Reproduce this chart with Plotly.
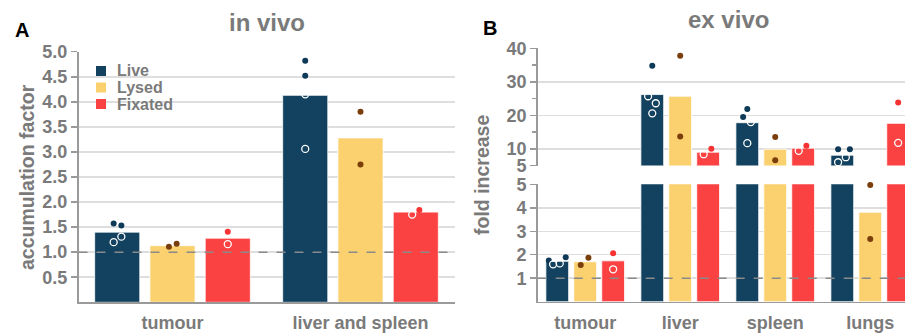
import plotly.graph_objects as go

# ---------------- data ----------------
series = ["Live", "Lysed", "Fixated"]
bar_colors = ["#12425f", "#fbd06e", "#fb4242"]
dot_colors = ["#0e3a58", "#7a3d0c", "#f63232"]

# Panel A (in vivo)
cats_a = ["tumour", "liver and spleen"]
vals_a = {
    "Live": [1.40, 4.13],
    "Lysed": [1.13, 3.28],
    "Fixated": [1.28, 1.80],
}
# replicate points: (category index, value, jitter, filled)
dots_a = {
    "Live": [(0, 1.57, -0.019, True), (0, 1.53, 0.022, True), (0, 1.20, -0.019, False), (0, 1.31, 0.022, False),
             (1, 4.82, 0, True), (1, 4.52, 0, True), (1, 4.15, 0, False), (1, 3.06, 0, False)],
    "Lysed": [(0, 1.11, -0.019, True), (0, 1.17, 0.022, True),
              (1, 3.80, 0, True), (1, 2.75, 0, True)],
    "Fixated": [(0, 1.41, 0, True), (0, 1.16, 0, False),
                (1, 1.75, -0.019, False), (1, 1.84, 0.019, True)],
}

# Panel B (ex vivo)
cats_b = ["tumour", "liver", "spleen", "lungs"]
vals_b = {
    "Live": [1.72, 26.2, 17.8, 8.1],
    "Lysed": [1.70, 25.7, 9.9, 3.81],
    "Fixated": [1.74, 9.0, 10.2, 17.6],
}
dots_b = {
    "Live": [(0, 1.76, -0.089, True), (0, 1.59, -0.044, False), (0, 1.63, 0.026, False), (0, 1.89, 0.089, True),
             (1, 34.8, 0, True), (1, 25.7, -0.044, False), (1, 23.6, 0.037, False), (1, 20.6, 0, False),
             (2, 21.9, 0, True), (2, 19.5, -0.044, True), (2, 18.0, 0.037, False), (2, 11.7, 0, False),
             (3, 9.9, -0.044, True), (3, 9.9, 0.08, True), (3, 7.5, 0.037, False), (3, 6.0, -0.044, False)],
    "Lysed": [(0, 1.56, -0.047, True), (0, 1.87, 0.034, True),
              (1, 37.8, 0, True), (1, 13.7, 0, True),
              (2, 13.5, 0, True), (2, 6.6, 0, True),
              (3, 4.97, 0, True), (3, 2.67, 0, True)],
    "Fixated": [(0, 2.06, 0, True), (0, 1.38, 0, False),
                (1, 8.4, -0.047, False), (1, 10.0, 0.034, True),
                (2, 9.4, -0.047, False), (2, 10.9, 0.034, True),
                (3, 23.8, 0, True), (3, 11.8, 0, False)],
}

ticks_a = [0.5, 1.0, 1.5, 2.0, 2.5, 3.0, 3.5, 4.0, 4.5, 5.0]
ticks_b_up = [5, 10, 20, 30, 40]
ticks_b_low = [1, 2, 3, 4, 5]

# ---------------- style ----------------
W, H = 905, 335
GRAY = "#7a7a7a"
GRID = "#dedede"
AXC = "#9a9a9a"
FONT = "Liberation Sans, Arial, sans-serif"
SLOT = 0.294
BW = 0.24


def px(x):
    return x / W


def py(y):
    return 1 - y / H


fig = go.Figure()


def dot_marker(k, filled):
    if filled:
        return dict(size=6, color=dot_colors[k], symbol="circle", line=dict(width=0))
    return dict(size=7, color="white", symbol="circle-open", line=dict(width=1.3, color="white"))


# ---------- Panel A ----------
for k, s in enumerate(series):
    off = (k - 1) * SLOT
    fig.add_trace(go.Bar(
        x=[i + off for i in range(len(cats_a))], y=vals_a[s], width=BW,
        marker=dict(color=bar_colors[k], line=dict(color="white", width=0.8)),
        name=s, showlegend=False, xaxis="x", yaxis="y"))
    for filled in (True, False):
        pts = [p for p in dots_a[s] if p[3] == filled]
        fig.add_trace(go.Scatter(
            x=[p[0] + off + p[2] for p in pts], y=[p[1] for p in pts], mode="markers",
            marker=dot_marker(k, filled), showlegend=False, xaxis="x", yaxis="y",
            hoverinfo="skip", cliponaxis=False))

# ---------- Panel B ----------
for k, s in enumerate(series):
    off = (k - 1) * SLOT
    for ax in ("y2", "y3"):
        fig.add_trace(go.Bar(
            x=[i + off for i in range(len(cats_b))], y=vals_b[s], width=BW,
            marker=dict(color=bar_colors[k], line=dict(color="white", width=0.8)),
            name=s, showlegend=False, xaxis="x2", yaxis=ax))
    for filled in (True, False):
        for ax, cond in (("y2", lambda v: v > 5), ("y3", lambda v: v <= 5)):
            pts = [p for p in dots_b[s] if p[3] == filled and cond(p[1])]
            if not pts:
                continue
            fig.add_trace(go.Scatter(
                x=[p[0] + off + p[2] for p in pts], y=[p[1] for p in pts], mode="markers",
                marker=dot_marker(k, filled), showlegend=False, xaxis="x2", yaxis=ax,
                hoverinfo="skip", cliponaxis=False))

tickfont = dict(family=FONT, size=18, color=GRAY, weight="bold")
xtickfont = dict(family=FONT, size=18, color=GRAY, weight="bold")

common_y = dict(showgrid=True, gridcolor=GRID, gridwidth=1.5, zeroline=False,
                showline=True, linecolor=AXC, linewidth=1.5,
                ticks="outside", ticklen=6, tickcolor=AXC, tickwidth=1.5,
                tickfont=tickfont, automargin=False)
common_x = dict(ticks="", showgrid=False, zeroline=False, showline=True, linecolor=AXC,
                linewidth=1.5, tickfont=xtickfont, ticklabelstandoff=4, automargin=False)

fig.update_layout(
    width=W, height=H, margin=dict(l=0, r=0, t=0, b=0, autoexpand=False),
    paper_bgcolor="white", plot_bgcolor="white",
    barmode="overlay", showlegend=False, hovermode=False,
    font=dict(family=FONT, color=GRAY),
    xaxis=dict(domain=[px(78.5), px(454.5)], range=[-0.5, 1.5], anchor="y",
               tickvals=list(range(len(cats_a))), ticktext=cats_a, **common_x),
    yaxis=dict(domain=[py(302.3), py(51.7)], range=[0, 5.0], anchor="x",
               tickvals=ticks_a, ticktext=[f"{t:.1f}" for t in ticks_a], **common_y),
    xaxis2=dict(domain=[px(537.7), 1.0], range=[-0.5, 3.366], anchor="y3",
                tickvals=list(range(len(cats_b))), ticktext=cats_b, **common_x),
    yaxis2=dict(domain=[py(165.6), py(48.3)], range=[5, 40], anchor="x2",
                tickvals=ticks_b_up, ticktext=[str(t) for t in ticks_b_up],
                minor=dict(tickvals=[15, 25, 35], ticks="outside", ticklen=4,
                           tickcolor=AXC, showgrid=False),
                **common_y),
    yaxis3=dict(domain=[py(301.7), py(184.3)], range=[0, 5], anchor="x2",
                tickvals=ticks_b_low, ticktext=[str(t) for t in ticks_b_low], **common_y),
)

# white box behind the legend, hiding gridlines
fig.add_shape(type="rect", xref="paper", yref="paper", x0=px(80), x1=px(207), y0=py(122), y1=py(57),
              fillcolor="white", line=dict(width=0), layer="between")

# legend drawn by hand: squares and labels
for k, s in enumerate(series):
    yc = 71 + k * 16.5
    fig.add_shape(type="rect", xref="paper", yref="paper",
                  x0=px(96), x1=px(106), y0=py(yc + 5), y1=py(yc - 5),
                  fillcolor=bar_colors[k], line=dict(width=0), layer="above")
    fig.add_annotation(text=s, x=px(115), y=py(yc), xref="paper", yref="paper",
                       showarrow=False, xanchor="left", yanchor="middle",
                       font=dict(family=FONT, size=16, color=GRAY, weight="bold"))

# dashed reference lines at 1
fig.add_shape(type="line", xref="x domain", yref="y", x0=0, x1=1, y0=1, y1=1,
              line=dict(color="#8a8a8a", width=1.6, dash="dash"), layer="above")
fig.add_shape(type="line", xref="x2 domain", yref="y3", x0=0, x1=1, y0=1, y1=1,
              line=dict(color="#8a8a8a", width=1.6, dash="dash"), layer="above")

# titles and panel letters
ann = [
    dict(text="in vivo", x=px(267), y=py(22), size=24, color=GRAY),
    dict(text="ex vivo", x=px(728), y=py(20), size=24, color=GRAY),
    dict(text="A", x=px(22), y=py(30), size=20, color="black"),
    dict(text="B", x=px(490), y=py(28), size=20, color="black"),
]
for a in ann:
    fig.add_annotation(text=a["text"], x=a["x"], y=a["y"], xref="paper", yref="paper",
                       showarrow=False, xanchor="center", yanchor="middle",
                       font=dict(family=FONT, size=a["size"], color=a["color"], weight="bold"))
fig.add_annotation(text="accumulation factor", x=px(27), y=py(177), xref="paper", yref="paper",
                   showarrow=False, textangle=-90, xanchor="center", yanchor="middle",
                   font=dict(family=FONT, size=19.5, color=GRAY, weight="bold"))
fig.add_annotation(text="fold increase", x=px(482), y=py(175), xref="paper", yref="paper",
                   showarrow=False, textangle=-90, xanchor="center", yanchor="middle",
                   font=dict(family=FONT, size=19.5, color=GRAY, weight="bold"))

fig.write_html(
    "out.html",
    config={"displayModeBar": False, "staticPlot": True},
    post_script="document.body.style.margin='0';document.body.style.overflow='hidden';",
)
